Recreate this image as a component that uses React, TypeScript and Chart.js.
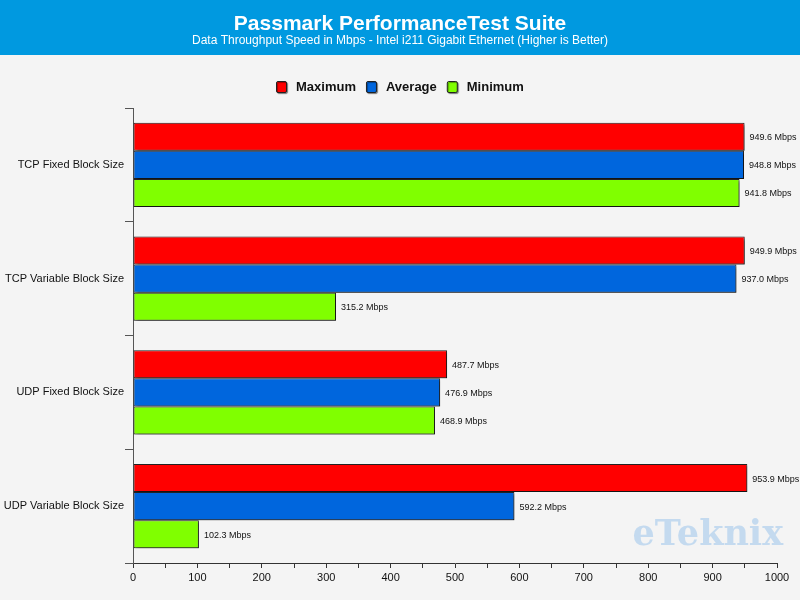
import React, { useEffect, useRef } from "react";
import { Chart, registerables } from "chart.js";

Chart.register(...registerables);

const categories = [
  "TCP Fixed Block Size",
  "TCP Variable Block Size",
  "UDP Fixed Block Size",
  "UDP Variable Block Size",
];
const maximum = [949.6, 949.9, 487.7, 953.9];
const average = [948.8, 937.0, 476.9, 592.2];
const minimum = [941.8, 315.2, 468.9, 102.3];
const seriesNames = ["Maximum", "Average", "Minimum"];
const seriesColors = ["#ff0000", "#0066dd", "#80ff00"];
const titleText = "Passmark PerformanceTest Suite";
const subtitleText = "Data Throughput Speed in Mbps - Intel i211 Gigabit Ethernet (Higher is Better)";
const unit = "Mbps";
const watermark = "eTeknix";

const framePlugin = {
  id: "frame",
  beforeDraw(chart: any) {
    const { ctx, width, height } = chart;
    ctx.save();
    ctx.fillStyle = "#f4f4f4";
    ctx.fillRect(0, 0, width, height);
    ctx.fillStyle = "#0099e0";
    ctx.fillRect(0, 0, width, 55);
    ctx.fillStyle = "#ffffff";
    ctx.textAlign = "center";
    ctx.textBaseline = "middle";
    ctx.font = "bold 21px 'Liberation Sans', Arial, sans-serif";
    ctx.fillText(titleText, width / 2, 24);
    ctx.font = "12px 'Liberation Sans', Arial, sans-serif";
    ctx.fillText(subtitleText, width / 2, 41);
    // watermark
    ctx.fillStyle = "rgba(180, 210, 238, 0.75)";
    ctx.font = "bold 35px 'DejaVu Serif', serif";
    ctx.textAlign = "right";
    ctx.fillText(watermark, 783, 536);
    // legend
    ctx.font = "bold 13px 'Liberation Sans', Arial, sans-serif";
    ctx.textAlign = "left";
    const gap = 10;
    const boxW = 10;
    const widths = seriesNames.map((n) => ctx.measureText(n).width);
    const total = widths.reduce((a, b) => a + b, 0) + seriesNames.length * (boxW + gap) + gap * (seriesNames.length - 1);
    let x = Math.round(width / 2 - total / 2);
    const y = 87;
    seriesNames.forEach((n, i) => {
      ctx.save();
      ctx.shadowColor = "rgba(0,0,0,0.4)";
      ctx.shadowOffsetX = 1;
      ctx.shadowOffsetY = 1;
      ctx.shadowBlur = 1;
      ctx.fillStyle = seriesColors[i];
      ctx.strokeStyle = "#222";
      ctx.lineWidth = 1;
      ctx.beginPath();
      if ((ctx as any).roundRect) (ctx as any).roundRect(x + 0.5, y - 5.5, boxW, 11, 1.5);
      else ctx.rect(x + 0.5, y - 5.5, boxW, 11);
      ctx.fill();
      ctx.stroke();
      ctx.restore();
      ctx.fillStyle = "#111";
      ctx.fillText(n, x + boxW + gap, y);
      x += boxW + gap + widths[i] + gap;
    });
    ctx.restore();
  },
  beforeDatasetsDraw(chart: any) {
    const ctx = chart.ctx;
    ctx.save();
    ctx.shadowColor = "rgba(0,0,0,0.45)";
    ctx.shadowOffsetX = 2;
    ctx.shadowOffsetY = 2;
    ctx.shadowBlur = 2;
  },
  afterDatasetsDraw(chart: any) {
    const ctx = chart.ctx;
    ctx.restore();
    ctx.save();
    ctx.font = "9px 'Liberation Sans', Arial, sans-serif";
    ctx.fillStyle = "#111";
    ctx.textAlign = "left";
    ctx.textBaseline = "middle";
    chart.data.datasets.forEach((ds: any, di: number) => {
      const meta = chart.getDatasetMeta(di);
      meta.data.forEach((el: any, i: number) => {
        const v = ds.data[i] as number;
        ctx.fillText(`${v.toFixed(1)} ${unit}`, el.x + 5, el.y + 1);
      });
    });
    ctx.restore();
  },
};

export default function App() {
  const ref = useRef<HTMLCanvasElement>(null);
  useEffect(() => {
    if (!ref.current) return;
    const data = [maximum, average, minimum];
    const chart = new Chart(ref.current, {
      type: "bar",
      data: {
        labels: categories,
        datasets: seriesNames.map((n, i) => ({
          label: n,
          data: data[i],
          backgroundColor: seriesColors[i],
          borderColor: "#222",
          borderWidth: 1,
          borderSkipped: false,
          categoryPercentage: 0.74,
          barPercentage: 1.0,
        })),
      },
      options: {
        indexAxis: "y",
        responsive: false,
        animation: false,
        layout: { padding: { top: 108, right: 23, bottom: 0, left: 0 } },
        plugins: {
          legend: { display: false },
          title: { display: false },
          tooltip: { enabled: false },
        },
        scales: {
          x: {
            type: "linear",
            min: 0,
            max: 1000,
            afterFit(scale: any) {
              scale.height = 37;
            },
            ticks: {
              stepSize: 50,
              autoSkip: false,
              maxRotation: 0,
              padding: 3,
              color: "#111",
              font: { family: "'Liberation Sans', Arial, sans-serif", size: 11 },
              callback: (v: any) => (Number(v) % 100 === 0 ? String(v) : ""),
            },
            grid: { drawOnChartArea: false, tickLength: 5, color: "#333" },
            border: { color: "#333" },
          },
          y: {
            type: "category",
            afterFit(scale: any) {
              scale.width = 133;
            },
            ticks: {
              color: "#111",
              padding: 1,
              font: { family: "'Liberation Sans', Arial, sans-serif", size: 11 },
            },
            grid: { drawOnChartArea: false, offset: true, tickLength: 8, color: "#555" },
            border: { color: "#555" },
          },
        },
      },
      plugins: [framePlugin],
    } as any);
    return () => chart.destroy();
  }, []);
  return (
    <div style={{ position: "fixed", left: 0, top: 0, width: 800, height: 600 }}>
      <canvas ref={ref} width={800} height={600} style={{ display: "block" }} />
    </div>
  );
}
